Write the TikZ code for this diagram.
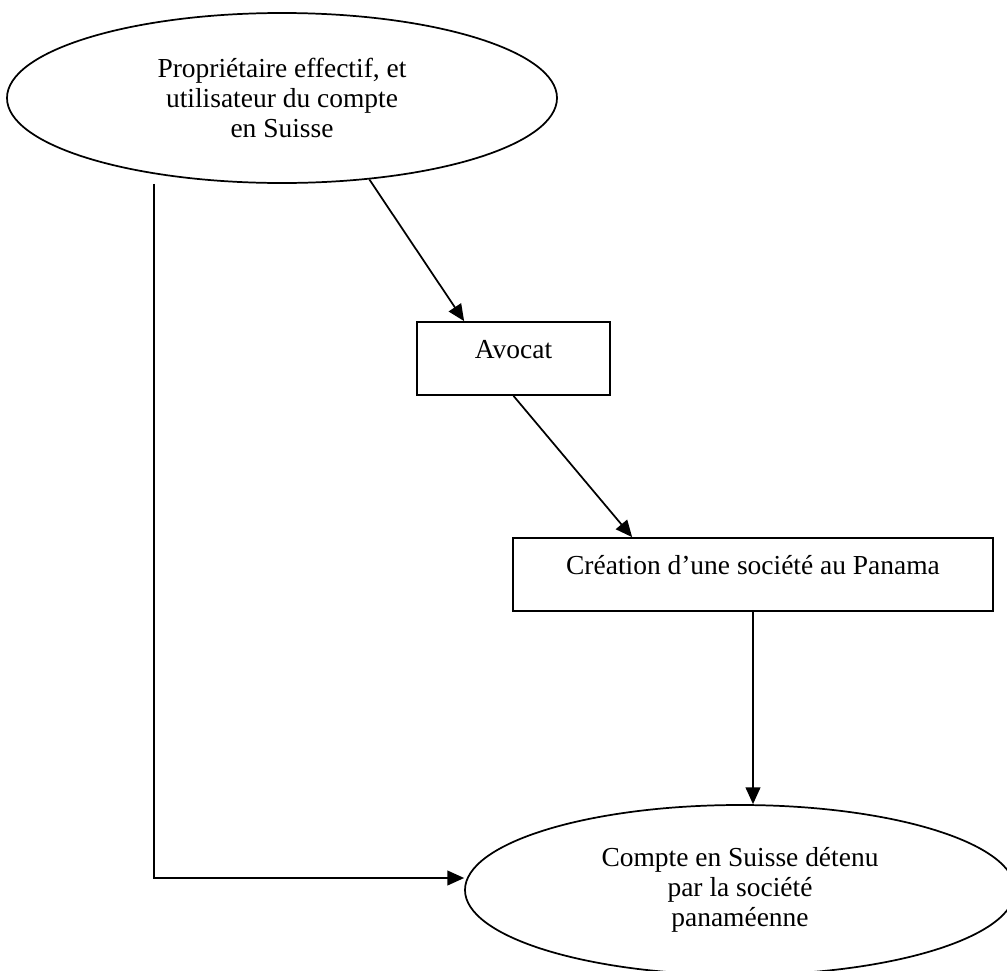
\documentclass[tikz,border=0pt]{standalone}
\usepackage{fontspec}
\setmainfont{Liberation Serif}
\usepackage{tikz}
\usetikzlibrary{shapes.geometric, arrows.meta}
\tikzset{
  ovalnode/.style={
    ellipse, draw=black, line width=1.3pt,
    minimum width=412.5pt, minimum height=127.5pt,
    inner sep=0pt, align=center,
    font=\fontsize{20.6}{22.5}\selectfont
  },
  block/.style={
    rectangle, draw=black, line width=1.3pt,
    minimum height=54.75pt, inner sep=0pt,
    text height=0.7em, text depth=0.7em,
    align=center,
    font=\fontsize{20.6}{22.5}\selectfont
  },
  arrow/.style={
    -{Triangle[length=12.5pt,width=11pt]},
    line width=1.3pt,
    color=black
  }
}

\begin{document}
\begin{tikzpicture}[x=0.75pt, y=-0.75pt]
\clip (0,0) rectangle (1007,971);

% --- owner and account ---
\node[ovalnode] (owner) at (282,98) {Propriétaire effectif, et\\utilisateur du compte\\en Suisse};
\node[ovalnode] (account) at (740,890) {Compte en Suisse détenu\\par la société\\panaméenne};

% --- intermediate steps ---
\node[block, minimum width=144.75pt] (lawyer) at (513.5,358.5) {Avocat};
\node[block, minimum width=360pt] (company) at (753,574.5) {Création d’une société au Panama};

\coordinate (corner) at (154,878);

% --- arrows ---
\draw[arrow] (owner.-43) -- ([xshift=36pt]lawyer.north west);
\draw[arrow] (lawyer.south) -- ([xshift=90pt]company.north west);
\draw[arrow] (company.south) -- (company.south |- account.north);

% direct line, owner down to the account
\draw[arrow] (owner.south -| corner) -- (corner) -- (corner -| account.west);
\end{tikzpicture}
\end{document}
